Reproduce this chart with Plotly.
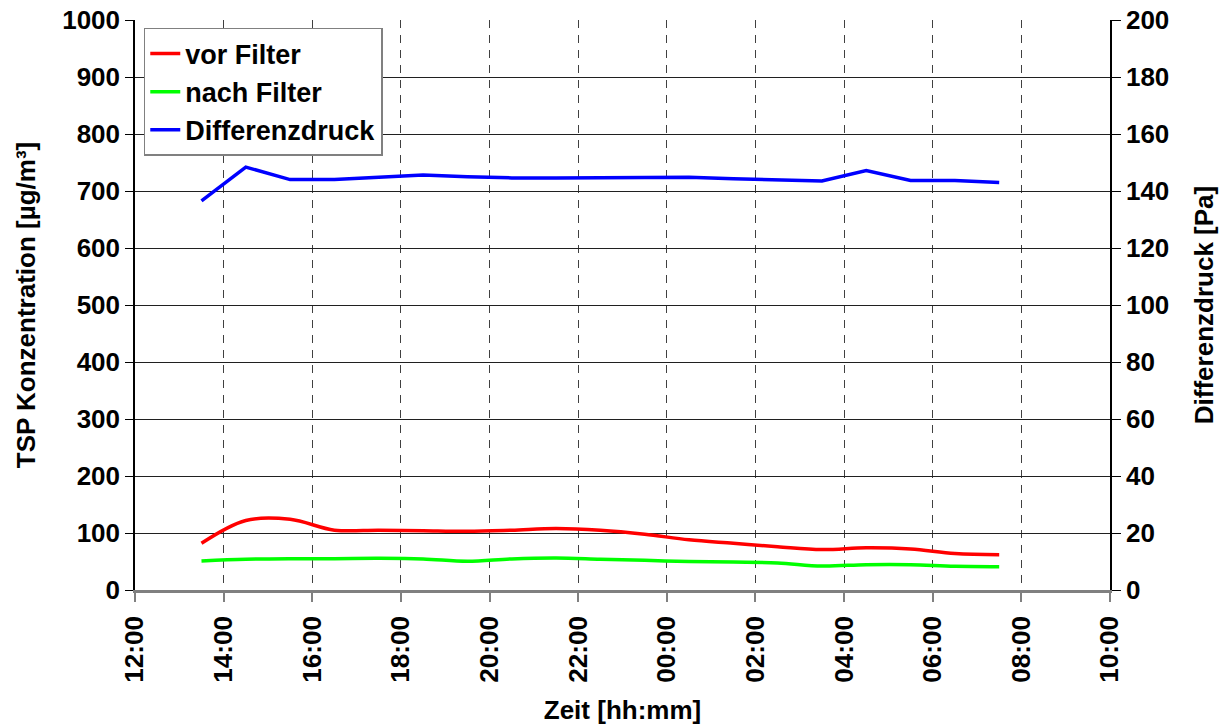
import plotly.graph_objects as go

# Messzeitpunkte (stuendlich, jeweils xx:30)
zeit = [
    "2023-01-01 13:30", "2023-01-01 14:30", "2023-01-01 15:30", "2023-01-01 16:30",
    "2023-01-01 17:30", "2023-01-01 18:30", "2023-01-01 19:30", "2023-01-01 20:30",
    "2023-01-01 21:30", "2023-01-01 22:30", "2023-01-01 23:30", "2023-01-02 00:30",
    "2023-01-02 01:30", "2023-01-02 02:30", "2023-01-02 03:30", "2023-01-02 04:30",
    "2023-01-02 05:30", "2023-01-02 06:30", "2023-01-02 07:30",
]
vor_filter = [82, 122, 124, 105, 105, 104, 103, 105, 108, 105, 98, 88, 82, 76, 71, 74, 72, 64, 62]
nach_filter = [51, 54, 55, 55, 55.5, 54.5, 50.5, 54.5, 56, 54, 52, 50, 49, 47.5, 42, 44.5, 44.5, 41.5, 41]
differenzdruck = [136.5, 148.4, 144, 144, 144.8, 145.6, 145, 144.6, 144.6, 144.7, 144.7, 144.8,
                  144.3, 144, 143.5, 147.2, 143.7, 143.7, 143]

font = dict(family="Liberation Sans, Arial, sans-serif", size=26, color="black", weight="bold")

fig = go.Figure()
fig.add_trace(go.Scatter(x=zeit, y=vor_filter, name="vor Filter", mode="lines",
                         line=dict(color="#ff0000", width=3.5, shape="spline")))
fig.add_trace(go.Scatter(x=zeit, y=nach_filter, name="nach Filter", mode="lines",
                         line=dict(color="#00ff00", width=3.5, shape="spline")))
fig.add_trace(go.Scatter(x=zeit, y=differenzdruck, name="Differenzdruck", mode="lines",
                         line=dict(color="#0000ff", width=3.5), yaxis="y2"))

fig.update_layout(
    width=1229, height=727,
    margin=dict(l=134.5, r=119, t=20, b=137, autoexpand=False),
    paper_bgcolor="white", plot_bgcolor="white",
    font=font,
    legend=dict(x=0.009, y=0.986, xanchor="left", yanchor="top",
                bgcolor="white", bordercolor="#808080", borderwidth=1.5,
                font=dict(font, size=27), tracegroupgap=0),
    xaxis=dict(
        type="date", range=["2023-01-01 12:00", "2023-01-02 10:00"],
        dtick=7200000, tick0="2023-01-01 12:00", tickformat="%H:%M", tickangle=-90,
        showgrid=True, gridcolor="#404040", gridwidth=1.2, griddash="8px,7px",
        showline=True, linecolor="#808080", linewidth=2.5,
        ticks="outside", ticklen=9, tickcolor="#808080", tickwidth=1.5,
        ticklabelstandoff=4,
        title=dict(text="Zeit [hh:mm]", font=font, standoff=20),
        tickfont=font, zeroline=False, automargin=False, ticklabeloverflow="allow",
    ),
    yaxis=dict(
        range=[0, 1000], dtick=100,
        showgrid=True, gridcolor="#202020", gridwidth=1,
        showline=True, linecolor="black", linewidth=1.5, mirror=False,
        ticks="outside", ticklen=8, tickcolor="black",
        title=dict(text="TSP Konzentration [µg/m³]", font=font, standoff=19),
        tickfont=font, zeroline=False, automargin=False, ticklabeloverflow="allow",
    ),
    yaxis2=dict(
        range=[0, 200], dtick=20, overlaying="y", side="right",
        showgrid=False, showline=True, linecolor="black", linewidth=1.5,
        ticks="outside", ticklen=9, tickcolor="black",
        title=dict(text="Differenzdruck [Pa]", font=font, standoff=26),
        tickfont=font, zeroline=False, automargin=False, ticklabeloverflow="allow",
    ),
)

# Seitenrand entfernen, damit die Grafik genau das Fenster fuellt
fig.write_html("out.html", config={"displayModeBar": False},
               post_script="document.body.style.margin='0px';")
